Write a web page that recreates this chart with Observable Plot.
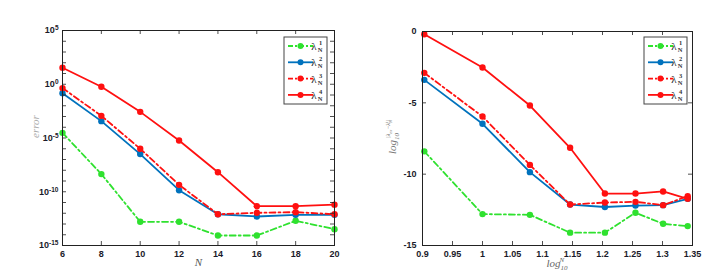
<!DOCTYPE html>
<html><head><meta charset="utf-8">
<script src="https://cdn.jsdelivr.net/npm/d3@7"></script>
<script src="https://cdn.jsdelivr.net/npm/@observablehq/plot@0.6"></script>
<style>
body{margin:0;background:#fff;}
#wrap{display:flex;width:718px;height:275px;overflow:hidden;}
#wrap svg{display:block;}
</style></head><body><div id="wrap"></div>
<script>
// ---------- data ----------
const N = [6, 8, 10, 12, 14, 16, 18, 20];
const err1 = [3.0e-5, 4.4e-9, 1.6e-13, 1.6e-13, 8.5e-15, 8.5e-15, 2.0e-13, 3.3e-14];
const err2 = [0.148, 3.7e-4, 3.2e-7, 1.4e-10, 8.1e-13, 5.0e-13, 7.1e-13, 7.1e-13];
const err3 = [0.44, 1.15e-3, 1.0e-6, 4.4e-10, 8.1e-13, 1.1e-12, 1.26e-12, 8.1e-13];
const err4 = [34, 0.58, 2.7e-3, 5.9e-6, 6.6e-9, 4.6e-12, 4.6e-12, 6.3e-12];

const logN = [0.903, 1.0, 1.079, 1.146, 1.204, 1.255, 1.301, 1.342];
const log1 = [-8.4, -12.8, -12.85, -14.1, -14.1, -12.7, -13.48, -13.64];
const log2 = [-3.39, -6.47, -9.86, -12.13, -12.3, -12.2, -12.17, -11.73];
const log3 = [-2.9, -5.96, -9.35, -12.13, -11.99, -11.94, -12.17, -11.54];
const log4 = [-0.19, -2.52, -5.19, -8.15, -11.36, -11.36, -11.21, -11.73];

const leftXTicks = [6, 8, 10, 12, 14, 16, 18, 20];
const leftYLabelExps = [5, 0, -5, -10, -15];
const leftYTickExps = d3.range(-15, 6);
const rightXTicks = [0.9, 0.95, 1, 1.05, 1.1, 1.15, 1.2, 1.25, 1.3, 1.35];
const rightYTicks = [0, -5, -10, -15];
const seriesNames = ["1", "2", "3", "4"];

// ---------- styles ----------
const GREEN = "#2fe12f", BLUE = "#0072bd", RED = "#ff1010";
const styles = [
  {stroke: GREEN, dash: "6,3,2,3"},
  {stroke: BLUE, dash: null},
  {stroke: RED, dash: "6,3,2,3"},
  {stroke: RED, dash: null}
];
const W = 359, H = 275;

function seriesMarks(xs, ysList) {
  const marks = [];
  ysList.forEach((ys, i) => {
    const rows = xs.map((x, j) => ({x, y: ys[j]}));
    const st = styles[i];
    marks.push(Plot.line(rows, {x: "x", y: "y", stroke: st.stroke, strokeWidth: 1.8,
      strokeDasharray: st.dash}));
    marks.push(Plot.dot(rows, {x: "x", y: "y", fill: st.stroke, r: 3.2}));
  });
  return marks;
}

function innerTicksX(ticks, plotH) {
  return [
    Plot.tickX(ticks, {x: d => d, insetTop: plotH - 4, stroke: "#222", strokeWidth: 0.8}),
    Plot.tickX(ticks, {x: d => d, insetBottom: plotH - 4, stroke: "#222", strokeWidth: 0.8})
  ];
}
function innerTicksY(ticks, plotW) {
  return [
    Plot.tickY(ticks, {y: d => d, insetRight: plotW - 4, stroke: "#222", strokeWidth: 0.8}),
    Plot.tickY(ticks, {y: d => d, insetLeft: plotW - 4, stroke: "#222", strokeWidth: 0.8})
  ];
}

function addLegend(svg, x0, y0) {
  const g = d3.select(svg).append("g");
  g.append("rect").attr("x", x0).attr("y", y0).attr("width", 43).attr("height", 67)
    .attr("fill", "#fff").attr("stroke", "#444").attr("stroke-width", 1);
  styles.forEach((st, i) => {
    const y = y0 + 9 + i * 16.3;
    g.append("line").attr("x1", x0 + 4).attr("x2", x0 + 29).attr("y1", y).attr("y2", y)
      .attr("stroke", st.stroke).attr("stroke-width", 1.8)
      .attr("stroke-dasharray", st.dash ? "5,2,2,2" : null);
    g.append("circle").attr("cx", x0 + 16.5).attr("cy", y).attr("r", 3).attr("fill", st.stroke);
    g.append("text").attr("x", x0 + 30).attr("y", y + 4).attr("font-family", "Liberation Serif, serif")
      .attr("font-size", 11).attr("fill", "#222").text("λ");
    g.append("text").attr("x", x0 + 36.5).attr("y", y - 1).attr("font-family", "Liberation Serif, serif")
      .attr("font-size", 6.5).attr("font-weight", "bold").attr("fill", "#333").text(seriesNames[i]);
    g.append("text").attr("x", x0 + 36).attr("y", y + 6).attr("font-family", "Liberation Serif, serif")
      .attr("font-size", 6.5).attr("font-weight", "bold").attr("fill", "#333").text("N");
  });
}

// ---------- left plot ----------
const lm = {l: 62, r: 25, t: 30, b: 30};
const left = Plot.plot({
  width: W, height: H,
  marginLeft: lm.l, marginRight: lm.r, marginTop: lm.t, marginBottom: lm.b,
  style: {fontFamily: "Liberation Sans, Arial, sans-serif", fontSize: "9px", color: "#1a1a2a", background: "#fff"},
  x: {domain: [6, 20]},
  y: {type: "log", domain: [1e-15, 1e5]},
  marks: [
    ...seriesMarks(N, [err1, err2, err3, err4]),
    ...innerTicksX(leftXTicks, H - lm.t - lm.b),
    ...innerTicksY(leftYTickExps.map(e => Math.pow(10, e)), W - lm.l - lm.r),
    Plot.frame({stroke: "#222", strokeWidth: 1}),
    Plot.axisX(leftXTicks, {tickSize: 0, tickPadding: 5, label: null, fontWeight: "bold", fontSize: 9}),
    Plot.axisY(leftYLabelExps.map(e => Math.pow(10, e)), {tickSize: 0, tickPadding: 4, label: null,
      tickFormat: d => "E" + Math.round(Math.log10(d)), fontWeight: "bold", fontSize: 9}),
    Plot.text(["N"], {frameAnchor: "bottom", dy: 20, fontStyle: "italic", fontFamily: "Liberation Serif, serif",
      fontSize: 11, fill: "#555"}),
    Plot.text(["error"], {frameAnchor: "left", dx: -27, rotate: -90, fontStyle: "italic",
      fontFamily: "Liberation Serif, serif", fontSize: 11, fill: "#aaa"})
  ]
});
// superscript tick labels
d3.select(left).selectAll('g[aria-label="y-axis tick label"] text').each(function() {
  const t = d3.select(this);
  const s = t.text();
  if (!s.startsWith("E")) return;
  const e = s.slice(1);
  t.text(null);
  t.append("tspan").text("10");
  t.append("tspan").attr("dy", "-0.45em").attr("font-size", "6.5px").text(e);
});
addLegend(left, 284, 37);

// ---------- right plot ----------
const rm = {l: 63, r: 26, t: 31, b: 30};
const right = Plot.plot({
  width: W, height: H,
  marginLeft: rm.l, marginRight: rm.r, marginTop: rm.t, marginBottom: rm.b,
  style: {fontFamily: "Liberation Sans, Arial, sans-serif", fontSize: "9px", color: "#1a1a2a", background: "#fff"},
  x: {domain: [0.9, 1.35]},
  y: {domain: [-15, 0]},
  marks: [
    ...seriesMarks(logN, [log1, log2, log3, log4]),
    ...innerTicksX(rightXTicks, H - rm.t - rm.b),
    ...innerTicksY(rightYTicks, W - rm.l - rm.r),
    Plot.frame({stroke: "#222", strokeWidth: 1}),
    Plot.axisX(rightXTicks, {tickSize: 0, tickPadding: 5, label: null, fontWeight: "bold", fontSize: 9,
      tickFormat: d => String(d)}),
    Plot.axisY(rightYTicks, {tickSize: 0, tickPadding: 6, label: null, fontWeight: "bold", fontSize: 9,
      tickFormat: d => String(d).replace("−", "-")})
  ]
});
// axis labels with sub/superscripts
{
  const s = d3.select(right);
  const xl = s.append("text").attr("x", rm.l + (W - rm.l - rm.r) / 2).attr("y", 267)
    .attr("text-anchor", "middle").attr("font-family", "Liberation Serif, serif")
    .attr("font-style", "italic").attr("fill", "#666").attr("font-size", 11);
  xl.append("tspan").text("log");
  xl.append("tspan").attr("font-size", 7).attr("dy", 3).text("10");
  xl.append("tspan").attr("font-size", 7).attr("dx", -8).attr("dy", -8).text("N");

  const yl = s.append("text").attr("transform", `translate(${37},${137}) rotate(-90)`)
    .attr("text-anchor", "middle").attr("font-family", "Liberation Serif, serif")
    .attr("font-style", "italic").attr("fill", "#777").attr("font-size", 11);
  yl.append("tspan").text("log");
  yl.append("tspan").attr("font-size", 7).attr("dy", 3).text("10");
  yl.append("tspan").attr("font-size", 6).attr("dx", -5).attr("dy", -9).text("|λ");
  yl.append("tspan").attr("font-size", 4.5).attr("dy", 1.5).text("ex");
  yl.append("tspan").attr("font-size", 6).attr("dy", -1.5).text("−λ");
  yl.append("tspan").attr("font-size", 4.5).attr("dy", 1.5).text("N");
  yl.append("tspan").attr("font-size", 4.5).attr("dx", -3).attr("dy", -3.5).text("i");
  yl.append("tspan").attr("font-size", 6).attr("dy", 2).text("|");
}
addLegend(right, 285, 37);

document.getElementById("wrap").append(left, right);
</script>
</body></html>
